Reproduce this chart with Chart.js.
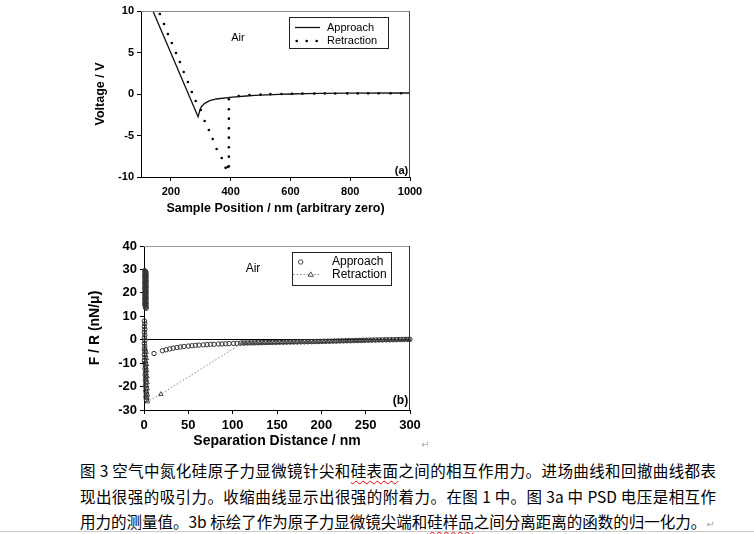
<!DOCTYPE html>
<html>
<head>
<meta charset="utf-8">
<script src="https://cdn.jsdelivr.net/npm/chart.js@4.4.0/dist/chart.umd.min.js"></script>
<style>
  body { margin:0; background:#fff; width:754px; height:534px; position:relative; overflow:hidden; }
  #chartA { position:absolute; left:80px; top:0; }
  #chartB { position:absolute; left:80px; top:235px; }
  .cap { position:absolute; left:80px; font-family:"Noto Sans CJK SC", sans-serif; font-size:15.5px; color:#000; white-space:nowrap; line-height:20px; }
  .just { width:636px; text-align:justify; text-align-last:justify; text-justify:inter-character; }
  .wavy { text-decoration:underline wavy #d00; text-decoration-thickness:1px; text-underline-offset:3px; }
  .ret { color:#aaa; font-family:"DejaVu Sans", sans-serif; font-size:10px; }
  #rule { position:absolute; left:0; top:531px; width:754px; height:1px; background:#c8c8c8; }
</style>
</head>
<body>
<canvas id="chartA" width="350" height="220"></canvas>
<canvas id="chartB" width="350" height="215"></canvas>
<div class="ret" style="position:absolute;left:421px;top:439px;">↵</div>
<div class="cap just" style="top:460px;">图 3 空气中氮化硅原子力显微镜针尖和<span class="wavy">硅表面</span>之间的相互作用力。进场曲线和回撤曲线都表</div>
<div class="cap just" style="top:486px;">现出很强的吸引力。收缩曲线显示出很强的附着力。在图 1 中。图 3a 中 PSD 电压是相互作</div>
<div class="cap" style="top:511px;">用力的测量值。3b 标绘了作为原子力显微镜尖端和<span class="wavy">硅样品</span>之间分离距离的函数的归一化力。<span class="ret">↵</span></div>
<div id="rule"></div>
<script>
// (a) PSD voltage vs sample position
const posTicks = [200, 400, 600, 800, 1000];
const voltTicks = [-10, -5, 0, 5, 10];
const voltApproachX = [100, 140, 291, 297, 302, 313, 330, 352, 397, 452, 480, 520, 563, 600, 650, 700, 800, 1000];
const voltApproachY = [10, 10, -2.73, -1.93, -1.53, -1.12, -0.81, -0.6, -0.4, -0.24, -0.17, -0.1, -0.04, 0, 0.05, 0.07, 0.1, 0.12];
const voltRetractX = [163, 177, 190, 203, 217, 230, 243, 257, 270, 283, 300, 313, 327, 340, 353, 370, 383, 390, 394,
  394, 394, 394, 394, 394, 394, 394, 427, 463, 500, 533, 570, 605, 640, 680, 715, 750, 790, 825, 860, 895, 935, 970];
const voltRetractY = [9.64, 8.43, 7.23, 6.14, 4.94, 3.86, 2.65, 1.45, 0.24, -0.84, -1.93, -3.25, -4.34, -5.42, -6.63, -7.71, -8.9, -8.8, -8.7,
  -7.55, -6.42, -5.26, -4.14, -2.97, -1.84, -0.64, -0.24, -0.12, -0.08, -0.02, 0, 0.02, 0.04, 0.05, 0.06, 0.06, 0.07, 0.07, 0.08, 0.08, 0.08, 0.09];

// (b) normalised force vs separation distance
const sepTicks = [0, 50, 100, 150, 200, 250, 300];
const forceTicks = [-30, -20, -10, 0, 10, 20, 30, 40];
const sepApproachX = [
  0.8, 1.8, 1.0, 2.0, 0.8, 1.8, 1.0, 2.0, 0.8, 1.8, 1.0, 2.0, 0.8, 1.8, 1.0, 2.0, 0.8, 1.8, 1.0, 2.0, 0.8, 1.8, 1.0, 2.0, 0.8, 1.8,
  1.3, 2.3, 1.5, 2.5, 1.3, 2.3, 1.5, 2.5, 1.3, 2.3, 1.5, 2.5, 1.3, 2.3, 1.5, 2.5, 1.3, 2.3, 1.5, 2.5, 1.3, 2.3, 1.5, 2.5, 1.3, 2.3, 1.5, 2.5,
  0.4, 0.9, 0.4, 0.9, 0.4, 0.9, 0.4, 0.9, 0.4, 0.9, 0.4, 0.9, 0.4, 0.9, 0.4,
  0.9, 1.5, 1.1, 1.7, 1.3, 1.9, 1.5, 2.1, 1.7, 2.3, 1.9, 2.5, 2.1, 2.7,
  11.3, 20.7, 25, 29, 33, 37, 41, 45, 50, 54, 58, 62, 67, 71, 75, 79, 84, 88, 92, 96, 101, 105, 109,
  113, 117, 121, 125, 129, 133, 137, 141, 145, 149, 153, 157, 161, 165, 169, 173, 177, 181, 185, 189, 193, 197,
  201, 205, 209, 213, 217, 221, 225, 229, 233, 237, 241, 245, 249, 253, 257, 261, 265, 269, 273, 277, 281, 285, 289, 293, 297, 300];
const sepApproachY = [
  29.5, 28.9, 28.3, 27.7, 27.1, 26.5, 25.9, 25.3, 24.7, 24.1, 23.5, 22.9, 22.3, 21.7, 21.1, 20.5, 19.9, 19.3, 18.7, 18.1, 17.5, 16.9, 16.3, 15.7, 15.1, 14.5,
  29.2, 28.6, 28.0, 27.4, 26.8, 26.2, 25.6, 25.0, 24.4, 23.8, 23.2, 22.6, 22.0, 21.4, 20.8, 20.2, 19.6, 19.0, 18.4, 17.8, 17.2, 16.6, 16.0, 15.4, 14.8, 14.2, 13.8, 13.4,
  8.0, 6.8, 5.6, 4.4, 3.2, 2.0, 0.8, -0.4, -1.6, -2.8, -4.0, -5.2, -6.4, -7.6, -8.8,
  -10.0, -11.2, -12.4, -13.6, -14.8, -16.0, -17.2, -18.4, -19.6, -20.8, -22.0, -23.2, -24.4, -25.6,
  -5.9, -4.7, -4.3, -3.9, -3.6, -3.35, -3.1, -2.9, -2.7, -2.55, -2.4, -2.3, -2.2, -2.1, -2.0, -1.95, -1.85, -1.8, -1.72, -1.65, -1.6, -1.55, -1.5,
  -1.45, -1.42, -1.38, -1.35, -1.32, -1.28, -1.25, -1.22, -1.18, -1.15, -1.12, -1.09, -1.06, -1.03, -1.0, -0.97, -0.94, -0.91, -0.88, -0.85, -0.82, -0.79,
  -0.76, -0.72, -0.68, -0.64, -0.6, -0.56, -0.52, -0.48, -0.44, -0.4, -0.36, -0.32, -0.28, -0.24, -0.2, -0.17, -0.14, -0.1, -0.07, -0.04, -0.01, 0.03, 0.06, 0.09, 0.12, 0.15];
const sepRetractX = [
  1.6, 2.4, 1.8, 2.6, 2.0, 2.8, 2.2, 3.0, 2.4, 3.2, 2.6, 3.4, 2.8, 3.6, 3.0, 3.8, 3.4, 4.0,
  19,
  111, 115, 119, 123, 127, 131, 135, 139, 143, 147, 151, 155, 159, 163, 167, 171, 175, 179, 183, 187, 191, 195, 199,
  203, 207, 211, 215, 219, 223, 227, 231, 235, 239, 243, 247, 251, 255, 259, 263, 267, 271, 275, 279, 283, 287, 291, 295, 299];
const sepRetractY = [
  -4.0, -5.3, -6.6, -7.9, -9.2, -10.5, -11.8, -13.1, -14.4, -15.7, -17.0, -18.3, -19.6, -20.9, -22.2, -23.5, -24.8, -26.4,
  -23.3,
  -1.4, -1.37, -1.34, -1.31, -1.28, -1.25, -1.22, -1.19, -1.16, -1.13, -1.1, -1.07, -1.04, -1.01, -0.98, -0.95, -0.92, -0.89, -0.86, -0.83, -0.8, -0.77, -0.74,
  -0.71, -0.67, -0.63, -0.59, -0.55, -0.51, -0.47, -0.43, -0.39, -0.35, -0.31, -0.27, -0.23, -0.19, -0.16, -0.13, -0.1, -0.07, -0.04, -0.01, 0.02, 0.05, 0.08, 0.11, 0.14];

function pts(xs, ys) {
  return xs.map((x, i) => ({ x: x, y: ys[i] }));
}

const FONT = '"Liberation Sans", Arial, sans-serif';

// frame on top/right, inset legend and labels
const decor = {
  id: 'decor',
  afterDraw(chart, args, o) {
    const ctx = chart.ctx;
    const a = chart.chartArea;
    ctx.save();
    ctx.lineWidth = 1;
    ctx.strokeStyle = o.topColor;
    ctx.beginPath();
    ctx.moveTo(a.left, Math.round(a.top) + 0.5);
    ctx.lineTo(a.right, Math.round(a.top) + 0.5);
    ctx.stroke();
    ctx.strokeStyle = o.rightColor;
    ctx.beginPath();
    ctx.moveTo(Math.round(a.right) - 0.5, a.top);
    ctx.lineTo(Math.round(a.right) - 0.5, a.bottom);
    ctx.stroke();

    // legend box
    const b = o.box;
    ctx.fillStyle = '#fff';
    ctx.fillRect(b[0], b[1], b[2], b[3]);
    ctx.strokeStyle = '#222';
    ctx.strokeRect(b[0] + 0.5, b[1] + 0.5, b[2], b[3]);
    ctx.fillStyle = '#000';
    ctx.font = o.legendFont;
    ctx.textBaseline = 'middle';
    ctx.textAlign = 'left';
    o.items.forEach(it => {
      if (it.kind === 'line') {
        ctx.strokeStyle = '#111';
        ctx.lineWidth = 1.3;
        ctx.beginPath(); ctx.moveTo(it.x0, it.y); ctx.lineTo(it.x1, it.y); ctx.stroke();
      } else if (it.kind === 'dots') {
        it.xs.forEach(x => { ctx.beginPath(); ctx.arc(x, it.y, 1.3, 0, Math.PI * 2); ctx.fill(); });
      } else if (it.kind === 'circle') {
        ctx.strokeStyle = '#333'; ctx.lineWidth = 0.9;
        ctx.beginPath(); ctx.arc(it.cx, it.y, 2.2, 0, Math.PI * 2); ctx.stroke();
      } else if (it.kind === 'dashTri') {
        ctx.strokeStyle = '#888'; ctx.lineWidth = 1; ctx.setLineDash([1.5, 2]);
        ctx.beginPath(); ctx.moveTo(it.x0, it.y); ctx.lineTo(it.x1, it.y); ctx.stroke();
        ctx.setLineDash([]);
        ctx.strokeStyle = '#333'; ctx.lineWidth = 0.9;
        ctx.beginPath();
        ctx.moveTo(it.cx, it.y - 2.6); ctx.lineTo(it.cx + 2.6, it.y + 1.8); ctx.lineTo(it.cx - 2.6, it.y + 1.8); ctx.closePath();
        ctx.fillStyle = '#fff'; ctx.fill(); ctx.stroke();
        ctx.fillStyle = '#000';
      }
      ctx.fillText(it.label, o.textX, it.y);
    });

    o.notes.forEach(n => {
      ctx.font = n.font;
      ctx.textAlign = 'center';
      ctx.fillText(n.text, n.x, n.y);
    });
    ctx.restore();
  }
};

function fixedTicks(list) {
  return s => { s.ticks = list.map(v => ({ value: v })); };
}
const plainLabel = v => String(v);

new Chart(document.getElementById('chartA'), {
  type: 'scatter',
  data: {
    datasets: [
      { label: 'Approach', data: pts(voltApproachX, voltApproachY), showLine: true, borderColor: '#111', borderWidth: 1.3, pointRadius: 0, tension: 0 },
      { label: 'Retraction', data: pts(voltRetractX, voltRetractY), showLine: false, pointRadius: 1.3, pointBackgroundColor: '#000', pointBorderWidth: 0, clip: false }
    ]
  },
  options: {
    responsive: false,
    animation: false,
    layout: { padding: { top: 11, right: 20, left: 0, bottom: 0 } },
    plugins: {
      legend: { display: false },
      tooltip: { enabled: false },
      decor: {
        topColor: '#888', rightColor: '#444',
        box: [209, 17, 99, 31],
        legendFont: '11px ' + FONT,
        textX: 247,
        items: [
          { kind: 'line', x0: 215, x1: 240, y: 27.5, label: 'Approach' },
          { kind: 'dots', xs: [216.7, 226.7, 236.7], y: 41, label: 'Retraction' }
        ],
        notes: [
          { text: 'Air', x: 158, y: 38, font: '11px ' + FONT },
          { text: '(a)', x: 321.5, y: 171, font: 'bold 11px ' + FONT }
        ]
      }
    },
    scales: {
      x: {
        type: 'linear', min: 100, max: 1000,
        afterBuildTicks: fixedTicks(posTicks),
        afterFit: s => { s.height = 43; },
        grid: { drawOnChartArea: false, tickLength: 4, tickColor: '#000' },
        border: { color: '#000', width: 1 },
        ticks: { color: '#000', padding: 4, maxRotation: 0, callback: plainLabel, font: { family: FONT, size: 11, weight: 'bold' } },
        title: { display: true, text: 'Sample Position / nm (arbitrary zero)', color: '#000',
                 font: { family: FONT, size: 12.5, weight: 'bold' }, padding: { top: 0, bottom: 3.5 } }
      },
      y: {
        min: -10, max: 10,
        afterBuildTicks: fixedTicks(voltTicks),
        afterFit: s => { s.width = 61; },
        grid: { drawOnChartArea: false, tickLength: 4, tickColor: '#000' },
        border: { color: '#000', width: 1 },
        ticks: { color: '#000', padding: 3, callback: plainLabel, font: { family: FONT, size: 11, weight: 'bold' } },
        title: { display: true, text: 'Voltage / V', color: '#000',
                 font: { family: FONT, size: 12.5, weight: 'bold' }, padding: { top: 13, bottom: 0 } }
      }
    }
  },
  plugins: [decor]
});

new Chart(document.getElementById('chartB'), {
  type: 'scatter',
  data: {
    datasets: [
      { label: 'Retraction', data: pts(sepRetractX, sepRetractY), showLine: true, borderColor: '#888', borderWidth: 1, borderDash: [1.5, 2],
        pointStyle: 'triangle', pointRadius: 2.6, pointBorderColor: '#333', pointBackgroundColor: 'rgba(0,0,0,0)', pointBorderWidth: 0.9, tension: 0, clip: false },
      { label: 'Approach', data: pts(sepApproachX, sepApproachY), showLine: false,
        pointStyle: 'circle', pointRadius: 2.2, pointBorderColor: '#333', pointBackgroundColor: 'rgba(0,0,0,0)', pointBorderWidth: 1, clip: false }
    ]
  },
  options: {
    responsive: false,
    animation: false,
    layout: { padding: { top: 11, right: 20, left: 0, bottom: 0 } },
    plugins: {
      legend: { display: false },
      tooltip: { enabled: false },
      decor: {
        topColor: '#999', rightColor: '#333',
        box: [212, 17, 99, 33],
        legendFont: '12px ' + FONT,
        textX: 252,
        items: [
          { kind: 'circle', cx: 220.7, y: 27, label: 'Approach' },
          { kind: 'dashTri', x0: 213, x1: 240, cx: 230.7, y: 39.5, label: 'Retraction' }
        ],
        notes: [
          { text: 'Air', x: 173, y: 34, font: '12px ' + FONT },
          { text: '(b)', x: 320.5, y: 166, font: 'bold 12px ' + FONT }
        ]
      }
    },
    scales: {
      x: {
        type: 'linear', min: 0, max: 300,
        afterBuildTicks: fixedTicks(sepTicks),
        afterFit: s => { s.height = 40; },
        grid: { drawOnChartArea: false, tickLength: 4, tickColor: '#000' },
        border: { color: '#000', width: 1 },
        ticks: { color: '#000', padding: 4, maxRotation: 0, callback: plainLabel, font: { family: FONT, size: 13, weight: 'bold' } },
        title: { display: true, text: 'Separation Distance / nm', color: '#000',
                 font: { family: FONT, size: 14, weight: 'bold' }, padding: { top: 0, bottom: 0.5 } }
      },
      y: {
        min: -30, max: 40,
        afterBuildTicks: fixedTicks(forceTicks),
        afterFit: s => { s.width = 64; },
        grid: { drawOnChartArea: true, tickLength: 4, tickColor: '#000',
                color: c => (c.tick && c.tick.value === 0) ? '#000' : 'rgba(0,0,0,0)' },
        border: { color: '#000', width: 1 },
        ticks: { color: '#000', padding: 3, callback: plainLabel, font: { family: FONT, size: 13, weight: 'bold' } },
        title: { display: true, text: 'F / R (nN/\u03bc)', color: '#000',
                 font: { family: FONT, size: 14, weight: 'bold' }, padding: { top: 6.5, bottom: 0 } }
      }
    }
  },
  plugins: [decor]
});
</script>
</body>
</html>
